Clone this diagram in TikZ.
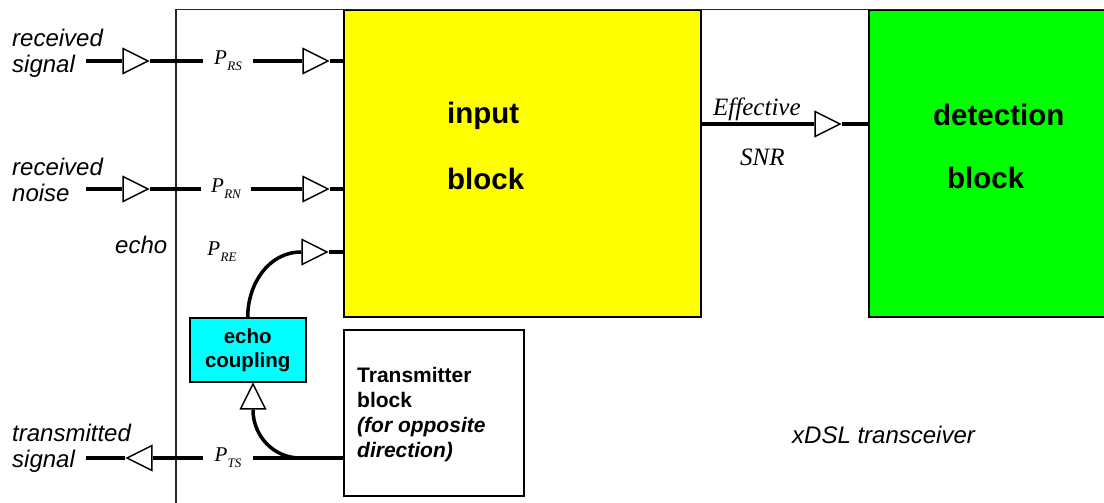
\documentclass[tikz,border=0pt]{standalone}
\usepackage{fontspec}
\setmainfont{Liberation Sans}
\newfontfamily\tms{Liberation Serif}
\usetikzlibrary{shapes.geometric}
\definecolor{blkyellow}{RGB}{255,255,0}
\definecolor{blkgreen}{RGB}{0,255,0}
\definecolor{blkcyan}{RGB}{0,255,255}
\newcommand\pSub[1]{{\tms\itshape\fontsize{21}{21}\selectfont P\kern0.3pt\raisebox{-6pt}{\fontsize{13}{13}\selectfont #1}}}
\begin{document}
\begin{tikzpicture}[x=1pt,y=-1pt,
  sig/.style={line width=3.5pt},
  frame/.style={line width=1.5pt, draw=black!85},
  blk/.style={draw, line width=1.5pt, inner sep=0pt, anchor=north west},
  tri/.style={isosceles triangle, isosceles triangle stretches, draw, fill=white, line width=1.5pt, inner sep=0pt, minimum width=25pt, minimum height=25pt},
  itl/.style={font=\fontsize{24}{26}\selectfont\itshape, inner sep=0pt, align=left, anchor=base west},
  bld/.style={font=\fontsize{29.5}{32}\selectfont\bfseries, inner sep=0pt, anchor=base west},
  plab/.style={inner sep=0pt, minimum width=50pt},
  ser/.style={font=\fontsize{25}{27}\selectfont\tms\itshape, inner sep=0pt, anchor=base west},
]
\useasboundingbox (0,0) rectangle (1104,503);
\clip (0,0) rectangle (1104,503);
\fill[white] (0,0) rectangle (1104,503);

% transceiver frame (cropped at right and bottom)
\draw[frame] (176,503) -- (176,9.5) -- (1104,9.5);

% blocks
\node[blk, fill=blkyellow, minimum width=357pt, minimum height=306pt] (inp) at (343,10) {};
\node[blk, fill=blkgreen, minimum width=260pt, minimum height=306pt] (det) at (868,10) {};
\node[blk, fill=white, minimum width=180pt, minimum height=166pt] (tx) at (343,329) {};
\node[blk, fill=blkcyan, minimum width=116pt, minimum height=64pt, align=center,
      font=\fontsize{20.5}{24}\selectfont\bfseries] (ec) at (189,317) {echo\\coupling};

% block texts
\node[bld] (tin1) at (447,124) {input};
\node[bld] (tin2) at (447,189) {block};
\node[bld] (tdt1) at (933,125) {detection};
\node[bld] (tdt2) at (947,188) {block};
\node[font=\fontsize{21}{25}\selectfont\bfseries, align=left, inner sep=0pt, anchor=base west] (ttx) at (357,457)
  {Transmitter\\block\\\textit{(for opposite}\\\textit{direction)}};

% triangles
\node[tri, anchor=apex] (trs1) at (150,61) {};
\node[tri, anchor=apex] (trs2) at (330,61) {};
\node[tri, anchor=apex] (trn1) at (150,189) {};
\node[tri, anchor=apex] (trn2) at (330,189) {};
\node[tri, anchor=apex] (tre) at (329,252) {};
\node[tri, anchor=apex] (tsn) at (842,124) {};
\node[tri, anchor=apex, shape border rotate=90] (tec) at (253,382) {};
\node[tri, anchor=apex, shape border rotate=180] (tts) at (125,458) {};

% P labels
\node[plab] (prs) at (228,61) {\pSub{RS}};
\node[plab] (prn) at (226,189) {\pSub{RN}};
\node[plab] (pre) at (222,252) {\pSub{RE}};
\node[plab] (pts) at (228,458) {\pSub{TS}};

% free ends
\coordinate (rsin) at (86,61);
\coordinate (rnin) at (86,189);
\coordinate (tsout) at (86,458);
\coordinate (tj) at (300,458);

% received signal
\draw[sig] (rsin) -- (trs1.lower side);
\draw[sig] (trs1.apex) -- (prs.west);
\draw[sig] (prs.east) -- (trs2.lower side);
\draw[sig] (trs2.apex) -- (trs2.apex -| inp.west);
% received noise
\draw[sig] (rnin) -- (trn1.lower side);
\draw[sig] (trn1.apex) -- (prn.west);
\draw[sig] (prn.east) -- (trn2.lower side);
\draw[sig] (trn2.apex) -- (trn2.apex -| inp.west);
% echo
\draw[sig] (ec.north) to[out=90,in=180] (tre.lower side);
\draw[sig] (tre.apex) -- (tre.apex -| inp.west);
% transmitted
\draw[sig] (tj -| tx.west) -- (pts.east);
\draw[sig] (pts.west) -- (tts.lower side);
\draw[sig] (tts.apex) -- (tsout);
\draw[sig] (tj) to[out=180,in=-90] (tec.lower side);
% effective SNR
\draw[sig] (tsn.apex -| inp.east) -- (tsn.lower side);
\draw[sig] (tsn.apex) -- (tsn.apex -| det.west);

% labels
\node[itl] (lrs) at (12,73) {received\\signal};
\node[itl] (lrn) at (12,201) {received\\noise};
\node[itl] (lecho) at (115,253) {echo};
\node[itl] (lts) at (12,467) {transmitted\\signal};
\node[itl] (lx) at (792,443) {xDSL transceiver};
\node[ser] (leff) at (713,115) {Effective};
\node[ser] (lsnr) at (740,165) {SNR};
\end{tikzpicture}
\end{document}
